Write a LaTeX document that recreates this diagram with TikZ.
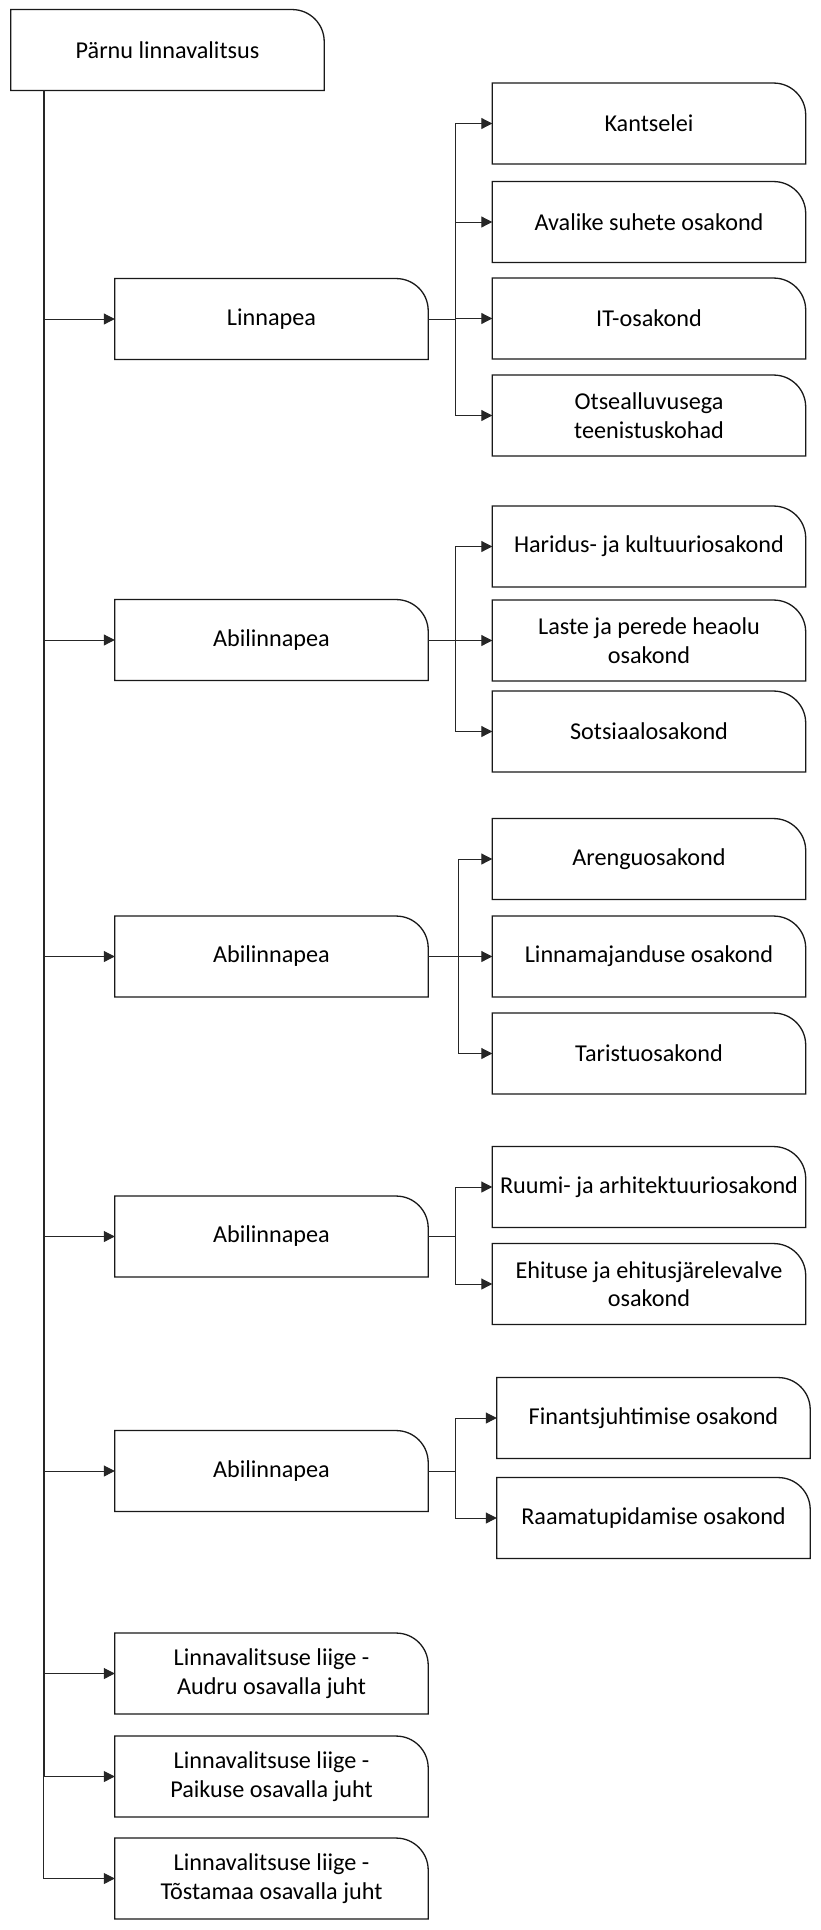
\documentclass[tikz,border=0pt]{standalone}
\usepackage{fontspec}
\setmainfont{Carlito}
\usetikzlibrary{arrows.meta}
\tikzset{
  orgbox/.style={minimum height=80.5pt, minimum width=313pt, inner sep=0pt, align=center,
    font=\fontsize{24.2}{28.5}\selectfont, text=black},
  boxline/.style={draw=black!90, line width=1.3pt},
  conn/.style={draw=black!85, line width=1pt, -{Triangle[length=11pt,width=11pt]}},
  trunkline/.style={draw=black!85, line width=1pt},
}
\newcommand\outlinebox[1]{%
  \draw[boxline] (#1.south west) -- (#1.north west) -- ([xshift=-32pt]#1.north east)
    arc[start angle=90, end angle=0, radius=32pt] -- (#1.south east) -- cycle;}
\begin{document}
\begin{tikzpicture}[x=1pt,y=-1pt]
\useasboundingbox (0,0) rectangle (820,1930);
% top
\node[orgbox] (top) at (167.5,50) {Pärnu linnavalitsus};
% left column
\node[orgbox] (lp)  at (271.5,319) {Linnapea};
\node[orgbox] (ab1) at (271.5,640) {Abilinnapea};
\node[orgbox] (ab2) at (271.5,956.5) {Abilinnapea};
\node[orgbox] (ab3) at (271.5,1236.5) {Abilinnapea};
\node[orgbox] (ab4) at (271.5,1471) {Abilinnapea};
\node[orgbox] (audru) at (271.5,1673.5) {Linnavalitsuse liige -\\Audru osavalla juht};
\node[orgbox] (paik) at (271.5,1776.5) {Linnavalitsuse liige -\\Paikuse osavalla juht};
\node[orgbox] (tost) at (271.5,1878.5) {Linnavalitsuse liige -\\Tõstamaa osavalla juht};
% right column
\node[orgbox] (kants) at (649,123.5) {Kantselei};
\node[orgbox] (aval)  at (649,222) {Avalike suhete osakond};
\node[orgbox] (it)    at (649,318.5) {IT-osakond};
\node[orgbox] (otse)  at (649,415.5) {Otsealluvusega\\teenistuskohad};
\node[orgbox] (har)   at (649,546.5) {Haridus- ja kultuuriosakond};
\node[orgbox] (laste) at (649,640.5) {Laste ja perede heaolu\\osakond};
\node[orgbox] (sots)  at (649,731.5) {Sotsiaalosakond};
\node[orgbox] (areng) at (649,859) {Arenguosakond};
\node[orgbox] (linm)  at (649,956.5) {Linnamajanduse osakond};
\node[orgbox] (tar)   at (649,1053.5) {Taristuosakond};
\node[orgbox] (ruumi) at (649,1187) {Ruumi- ja arhitektuuriosakond};
\node[orgbox] (ehit)  at (649,1284) {Ehituse ja ehitusjärelevalve\\osakond};
\node[orgbox] (fin)   at (653.5,1418) {Finantsjuhtimise osakond};
\node[orgbox] (raam)  at (653.5,1518) {Raamatupidamise osakond};
\foreach \n in {top,lp,ab1,ab2,ab3,ab4,audru,paik,tost,kants,aval,it,otse,har,laste,sots,areng,linm,tar,ruumi,ehit,fin,raam}
  {\outlinebox{\n}}
% trunk
\draw[trunkline, line width=1.8pt] ([xshift=33pt]top.south west) -- ([xshift=33pt]top.south west |- paik.west);
\foreach \n in {lp,ab1,ab2,ab3,ab4,audru,paik,tost}
  {\draw[conn] ([xshift=33pt]top.south west) |- (\n.west);}
% branches
\foreach \n in {kants,aval,it,otse} {\draw[conn] (lp.east) -- ++(27,0) |- (\n.west);}
\foreach \n in {har,laste,sots} {\draw[conn] (ab1.east) -- ++(27,0) |- (\n.west);}
\foreach \n in {areng,linm,tar} {\draw[conn] (ab2.east) -- ++(30,0) |- (\n.west);}
\foreach \n in {ruumi,ehit} {\draw[conn] (ab3.east) -- ++(27,0) |- (\n.west);}
\foreach \n in {fin,raam} {\draw[conn] (ab4.east) -- ++(27,0) |- (\n.west);}
\end{tikzpicture}
\end{document}
